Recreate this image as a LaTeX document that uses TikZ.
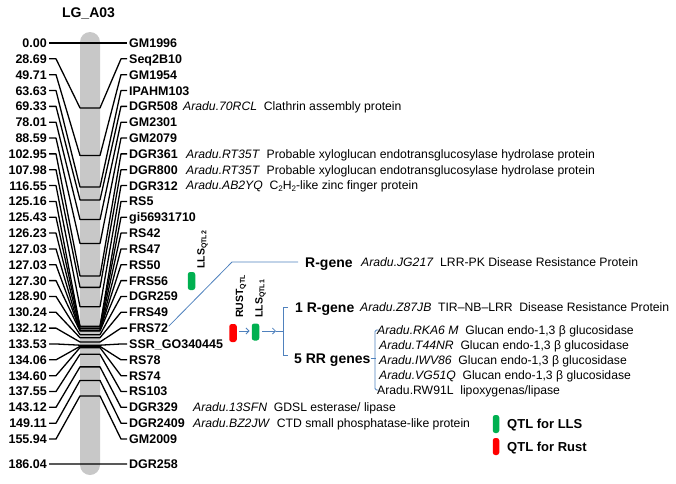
\documentclass[tikz,border=0pt]{standalone}
\usepackage{fontspec}
\setmainfont{Liberation Sans}
\usetikzlibrary{arrows.meta,calc}
\definecolor{qgreen}{RGB}{0,176,80}
\definecolor{qred}{RGB}{255,0,0}
\definecolor{lnblue}{RGB}{79,129,189}
\definecolor{chrgray}{RGB}{200,200,200}
\newcommand{\mysub}[1]{\raisebox{-0.35ex}{\fontsize{7}{8}\selectfont #1}}
\newcommand{\chsub}[1]{\raisebox{-0.3ex}{\fontsize{8}{9}\selectfont #1}}
\begin{document}
\begin{tikzpicture}[x=1pt,y=-1pt,
  mk/.style={font=\fontsize{12.5}{14}\selectfont\bfseries, inner sep=0pt, text height=8.95pt, text depth=0pt},
  ann/.style={font=\fontsize{12.2}{14}\selectfont, inner sep=0pt, text height=8.7pt, text depth=0pt, anchor=west},
  big/.style={font=\fontsize{14}{16}\selectfont\bfseries, inner sep=0pt, text height=10pt, text depth=0pt, anchor=west},
  leg/.style={font=\fontsize{13}{15}\selectfont\bfseries, inner sep=0pt, text height=9.3pt, text depth=0pt, anchor=west},
  conn/.style={line width=1.3pt, line join=round},
  bl/.style={draw=lnblue, line width=0.8pt},
  qbar/.style={draw=none, rounded corners=2.5pt, minimum width=7.5pt, inner sep=0pt},
  qlab/.style={font=\fontsize{10.5}{12}\selectfont\bfseries, inner sep=0pt, rotate=90, anchor=base west},
  chrom/.style={fill=chrgray, rounded corners=10pt, minimum width=20pt, minimum height=443pt, inner sep=0pt}]
\useasboundingbox (0,0) rectangle (676,483);

% title
\node[mk, font=\fontsize{14}{16}\selectfont\bfseries, text height=10pt] (title) at (88.5,12) {LG\_A03};

% chromosome
\node[chrom] (chr) at (90,253.5) {};

% markers
\foreach \i/\num/\name in {0/0.00/GM1996, 1/28.69/Seq2B10, 2/49.71/GM1954, 3/63.63/IPAHM103,
  4/69.33/DGR508, 5/78.01/GM2301, 6/88.59/GM2079, 7/102.95/DGR361, 8/107.98/DGR800,
  9/116.55/DGR312, 10/125.16/RS5, 11/125.43/gi56931710, 12/126.23/RS42, 13/127.03/RS47,
  14/127.03/RS50, 15/127.30/FRS56, 16/128.90/DGR259, 17/130.24/FRS49, 18/132.12/FRS72,
  19/133.53/SSR\_GO340445, 20/134.06/RS78, 21/134.60/RS74, 22/137.55/RS103, 23/143.12/DGR329,
  24/149.11/DGR2409, 25/155.94/GM2009, 26/186.04/DGR258}{
  \pgfmathsetmacro\y{\i<26 ? 43+15.84*\i : 464}
  \pgfmathsetmacro\yc{43+2.263*\num}
  \coordinate (a\i) at (49,\y);
  \coordinate (b\i) at (56,\y);
  \coordinate (c\i) at (80,\yc);
  \coordinate (d\i) at (100,\yc);
  \coordinate (e\i) at (121,\y);
  \coordinate (f\i) at (127,\y);
  \draw[conn] (a\i) -- (b\i) -- (c\i) -- (d\i) -- (e\i) -- (f\i);
  \node[mk, anchor=east] (L\i) at (47,\y) {\num};
  \node[mk, anchor=west] (R\i) at (129,\y) {\name};
}

% annotations next to markers
\node[ann] (A4) at (183,106.36) {\textit{Aradu.70RCL}\hspace{0.55em}Clathrin assembly protein};
\node[ann] (A7) at (186,153.88) {\textit{Aradu.RT35T}\hspace{0.55em}Probable xyloglucan endotransglucosylase hydrolase protein};
\node[ann] (A8) at (186,169.72) {\textit{Aradu.RT35T}\hspace{0.55em}Probable xyloglucan endotransglucosylase hydrolase protein};
\node[ann] (A9) at (186,185.56) {\textit{Aradu.AB2YQ}\hspace{0.55em}C\chsub{2}H\chsub{2}-like zinc finger protein};
\node[ann] (A23) at (193,407.32) {\textit{Aradu.13SFN}\hspace{0.55em}GDSL esterase/ lipase};
\node[ann] (A24) at (193,423.16) {\textit{Aradu.BZ2JW}\hspace{0.55em}CTD small phosphatase-like protein};

% QTL bars and labels
\node[qbar, fill=qgreen, minimum height=18pt] (lls2) at (191.5,281) {};
\node[qlab] (lls2lab) at (204.5,269) {LLS\mysub{QTL2}};
\node[qbar, fill=qred, minimum height=18pt] (rust) at (233,333) {};
\node[qlab] (rustlab) at (243,318) {RUST\mysub{QTL}};
\node[qbar, fill=qgreen, minimum height=17pt] (lls1) at (255.5,332) {};
\node[qlab] (lls1lab) at (262.5,318) {LLS\mysub{QTL1}};

% R-gene from FRS72
\node[big] (rg) at (305,262) {R-gene};
\node[ann] (rgA) at (361,262) {\textit{Aradu.JG217}\hspace{0.55em}LRR-PK Disease Resistance Protein};
\coordinate (k1) at (232,262);
\coordinate (k2) at (298,262);
\draw[bl] ($(R18.east)+(0.5,-2)$) -- (k1) -- (k2);

% arrows
\coordinate (m1) at (276,331);
\draw[bl, -{Straight Barb[length=3pt,width=6pt]}] ($(rust.east)+(2,-2)$) -- ($(lls1.west)+(-2,-1)$);
\draw[bl, -{Straight Barb[length=3pt,width=6pt]}] ($(lls1.east)+(3,-1)$) -- (m1);
\coordinate (bt) at (283,307);
\coordinate (bb) at (283,355);
\draw[bl] (m1) -- (283,331);
\draw[bl] (288,307) -- (bt) -- (bb) -- (288,355);

\node[big] (r1) at (295,307) {1 R-gene};
\node[ann] (r1A) at (360,307) {\textit{Aradu.Z87JB}\hspace{0.55em}TIR–NB–LRR\hspace{0.55em}Disease Resistance Protein};
\node[big] (r5) at (294,358) {5 RR genes};

% bracket of 5 RR genes
\draw[bl] (r5.east) -- ++(5,0);
\draw[bl, rounded corners=1.5pt] (378.5,330) -- (375,330) -- (375,390) -- (378.5,390);
\node[ann] (g1) at (377,330) {\textit{Aradu.RKA6 M}\hspace{0.55em}Glucan endo-1,3 β glucosidase};
\node[ann] (g2) at (379,345) {\textit{Aradu.T44NR}\hspace{0.55em}Glucan endo-1,3 β glucosidase};
\node[ann] (g3) at (379,360) {\textit{Aradu.IWV86}\hspace{0.55em}Glucan endo-1,3 β glucosidase};
\node[ann] (g4) at (379,375) {\textit{Aradu.VG51Q}\hspace{0.55em}Glucan endo-1,3 β glucosidase};
\node[ann] (g5) at (377,390) {Aradu.RW91L\hspace{0.55em}lipoxygenas/lipase};

% legend
\node[qbar, fill=qgreen, minimum width=6.5pt, minimum height=18pt] (lg1) at (496,424) {};
\node[leg] (lg1t) at (507,424) {QTL for LLS};
\node[qbar, fill=qred, minimum width=6.5pt, minimum height=17pt] (lg2) at (496,446.5) {};
\node[leg] (lg2t) at (507,447) {QTL for Rust};
\end{tikzpicture}
\end{document}
